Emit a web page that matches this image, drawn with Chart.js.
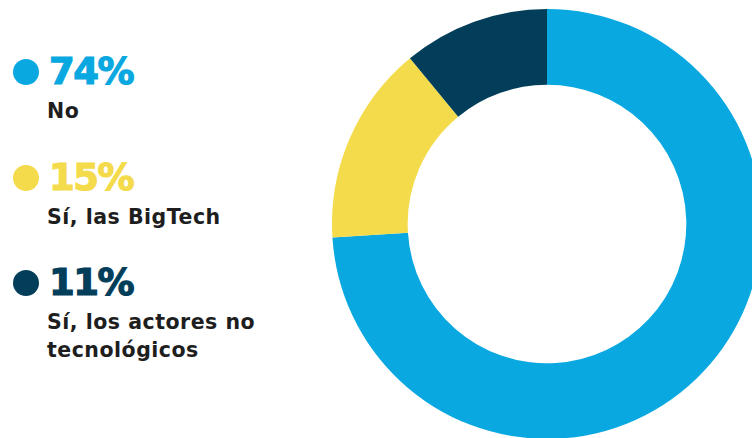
<!DOCTYPE html>
<html>
<head>
<meta charset="utf-8">
<script src="https://cdn.jsdelivr.net/npm/chart.js"></script>
<style>
  html, body { margin: 0; padding: 0; background: #fff; }
  body { width: 752px; height: 438px; overflow: hidden; position: relative; font-family: "DejaVu Sans", sans-serif; }
  #chart-box { position: absolute; left: 332px; top: 9px; width: 430px; height: 430px; }
  .item { position: absolute; left: 13px; }
  .pct { display: flex; align-items: center; height: 36px; }
  .dot { width: 26px; height: 26px; border-radius: 50%; margin-right: 10px; }
  .num { font-weight: 700; font-size: 37px; letter-spacing: -1.5px; line-height: 36px; -webkit-text-stroke: 1.2px currentColor; }
  .lbl { margin-left: 34px; margin-top: 8px; font-weight: 700; font-size: 20.5px; letter-spacing: 0.5px; line-height: 27.5px; color: #1e1e1e; }
</style>
</head>
<body>
<div id="legend"></div>
<div id="chart-box"><canvas id="donut" width="430" height="430"></canvas></div>
<script>
const labels = ['No', 'Sí, las BigTech', 'Sí, los actores no<br>tecnológicos'];
const values = [74, 15, 11];
const colors = ['#09a8e0', '#f4db4b', '#023e5a'];
const legendTops = [54, 160, 265];

// Leyenda a la izquierda
const legend = document.getElementById('legend');
labels.forEach((label, i) => {
    const item = document.createElement('div');
    item.className = 'item';
    item.style.top = legendTops[i] + 'px';
    item.innerHTML = `<div class="pct"><span class="dot" style="background:${colors[i]}"></span>` +
        `<span class="num" style="color:${colors[i]}">${values[i]}%</span></div>` +
        `<div class="lbl">${label}</div>`;
    legend.appendChild(item);
});

new Chart(document.getElementById('donut'), {
    type: 'doughnut',
    data: {
        labels: labels.map(l => l.replace('<br>', ' ')),
        datasets: [{
            data: values,
            backgroundColor: colors,
            borderWidth: 0
        }]
    },
    options: {
        responsive: false,
        animation: false,
        cutout: '64.8%',
        layout: { padding: 0 },
        plugins: {
            legend: { display: false },
            tooltip: { enabled: false }
        }
    }
});
</script>
</body>
</html>
